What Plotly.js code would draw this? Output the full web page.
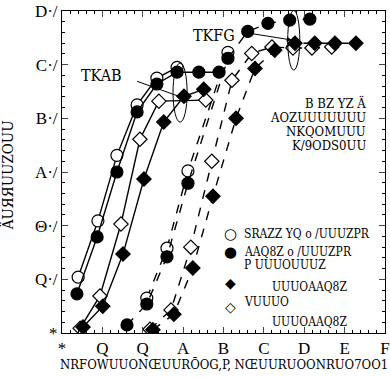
<!DOCTYPE html>
<html><head><meta charset="utf-8">
<script src="https://cdn.plot.ly/plotly-3.0.1.min.js"></script>
<style>html,body{margin:0;padding:0;background:#fff}</style>
</head><body><div id="g" style="width:390px;height:377px"></div>
<script>
// Solid curves
const solidOpenCircX = [0.40, 0.89, 1.36, 1.86, 2.35, 2.85];
const solidOpenCircY = [1.04, 2.09, 3.31, 4.25, 4.75, 4.95];
const solidFillCircX = [0.37, 0.87, 1.36, 1.86, 2.35, 2.85, 3.39, 3.89];
const solidFillCircY = [0.73, 1.79, 3.00, 4.12, 4.64, 4.86, 4.86, 4.86];
const solidFillDiaX = [0.52, 1.01, 1.51, 2.03, 2.52, 3.02, 3.51];
const solidFillDiaY = [0.11, 0.50, 1.47, 2.87, 3.93, 4.41, 4.54];
const solidOpenDiaX = [0.45, 0.94, 1.46, 1.93, 2.40, 3.56];
const solidOpenDiaY = [0.09, 0.69, 2.03, 3.61, 4.32, 4.34];
// Dashed curves
const dashFillCircX = [1.61, 2.10, 2.60, 3.12, 4.11, 4.60, 5.10, 5.64, 6.14];
const dashFillCircY = [0.15, 0.54, 1.42, 2.79, 5.12, 5.62, 5.77, 5.83, 5.85];
const dashOpenCircX = [2.10, 2.60, 3.12, 4.11];
const dashOpenCircY = [0.65, 1.58, 3.02, 5.23];
const dashFillDiaX = [2.25, 2.77, 3.24, 3.74, 4.31, 4.78, 5.27, 5.77, 6.26, 6.76, 7.28];
const dashFillDiaY = [0.06, 0.35, 1.21, 2.55, 4.00, 4.93, 5.27, 5.40, 5.40, 5.40, 5.40];
const dashOpenDiaX = [2.18, 2.70, 3.19, 3.71, 4.21, 4.70, 5.20, 5.72, 6.19, 6.68];
const dashOpenDiaY = [0.07, 0.43, 1.60, 3.20, 4.71, 5.21, 5.33, 5.31, 5.31, 5.33];

const xTickVals = [0,1,2,3,4,5,6,7,8];
const xTickText = ['*','Q','Q','A','B','C','D','E','F'];
const yTickVals = [0,1,2,3,4,5,6];
const yTickText = ['*','Q·/','Θ·/','A·/','B·/','C·/','D·/'];

const F = 'DejaVu Serif Condensed, Liberation Serif, serif';
const FT = 'Liberation Serif, serif';
function tr(x,y,sym,fill,dash){
  return {x:x,y:y,type:'scatter',mode:'lines+markers',showlegend:false,
    line:{color:'#000',width:1.4,dash:dash},
    marker:{symbol:sym,size:sym==='diamond'?11:12,color:fill,line:{color:'#000',width:1.2}}};
}
const data = [
  tr(dashOpenDiaX,dashOpenDiaY,'diamond','#fff','dash'),
  tr(dashFillDiaX,dashFillDiaY,'diamond','#000','dash'),
  tr(dashOpenCircX,dashOpenCircY,'circle','#fff','dash'),
  tr(dashFillCircX,dashFillCircY,'circle','#000','dash'),
  tr(solidOpenDiaX,solidOpenDiaY,'diamond','#fff','solid'),
  tr(solidFillDiaX,solidFillDiaY,'diamond','#000','solid'),
  tr(solidOpenCircX,solidOpenCircY,'circle','#fff','solid'),
  tr(solidFillCircX,solidFillCircY,'circle','#000','solid')
];
function ax(vals,text,range){
  return {range:range,tickmode:'array',tickvals:vals,ticktext:text,ticks:'inside',ticklen:6,
    showline:true,linecolor:'#000',linewidth:1,mirror:'ticks',showgrid:false,zeroline:false,
    tickfont:{family:FT,size:17,color:'#000'},
    minor:{ticks:'inside',ticklen:3,dtick:0.2,tickcolor:'#000'}};
}
const xa = ax(xTickVals,xTickText,[0,8]);
const ya = ax(yTickVals,yTickText,[0,6]);
function t(x,y,s,size,anchor){
  return {xref:'x',yref:'y',x:x,y:y,text:s,showarrow:false,xanchor:anchor||'center',yanchor:'middle',
    font:{family:F,size:size||14,color:'#000'}};
}
function g(x,y,s,size){
  return {xref:'x',yref:'y',x:x,y:y,text:s,showarrow:false,xanchor:'center',yanchor:'middle',
    font:{family:'DejaVu Sans',size:size,color:'#000'}};
}
const layout = {
  width:390,height:377,margin:{l:62,r:5,t:11,b:44},
  paper_bgcolor:'#fff',plot_bgcolor:'#fff',font:{family:F,color:'#000'},
  xaxis:xa,yaxis:ya,
  shapes:[
    {type:'circle',xref:'x',yref:'y',x0:2.75,x1:3.1,y0:3.93,y1:5.03,line:{color:'#000',width:1}},
    {type:'circle',xref:'x',yref:'y',x0:5.59,x1:5.89,y0:4.9,y1:6.01,line:{color:'#000',width:1}},
    {type:'line',xref:'x',yref:'y',x0:1.86,y0:4.69,x1:2.97,y1:4.39,line:{color:'#000',width:1}}
  ],
  annotations:[
    {xref:'paper',yref:'paper',x:-0.167,y:0.49,textangle:-90,text:'ÄUЯЯUUZOUU',showarrow:false,
      xanchor:'center',yanchor:'middle',font:{family:F,size:15,color:'#000'}},
    {xref:'paper',yref:'paper',x:0.5,y:-0.097,text:'NRFOWUUONŒUURŌOG,P, NŒUURUOONRUO7OO1',showarrow:false,
      xanchor:'center',yanchor:'middle',font:{family:F,size:13,color:'#000'}},
    t(0.97,4.80,'TKAB',16),
    t(3.76,5.55,'TKFG',16),
    {xref:'x',yref:'y',x:5.69,y:5.46,ax:4.60,ay:5.59,axref:'x',ayref:'y',text:'',showarrow:true,arrowhead:2,arrowsize:1,arrowwidth:1,arrowcolor:'#000'},
    t(7.57,4.28,'B BZ YZ Ä',13,'right'),
    t(7.57,4.02,'AOZUUUUUUU',13,'right'),
    t(7.57,3.76,'NKQOMUUU',13,'right'),
    t(7.57,3.50,'K/9ODS0UU',13,'right'),
    g(4.18,1.84,'○',15), g(4.18,1.51,'●',15), g(4.18,0.93,'◆',14), g(4.18,0.48,'◇',14),
    t(4.46,1.84,'SRAZZ YQ o /UUUZPR',12,'left'),
    t(4.46,1.51,'AAQ8Z o /UUUZPR',12,'left'),
    t(4.46,1.27,'P UUUOUUUZ',12,'left'),
    t(5.15,0.86,'UUUOAAQ8Z',12,'left'),
    t(4.46,0.58,'VUUUO',12,'left'),
    t(5.15,0.20,'UUUOAAQ8Z',12,'left')
  ]
};
Plotly.newPlot('g',data,layout,{displayModeBar:false,staticPlot:true});
</script></body></html>
